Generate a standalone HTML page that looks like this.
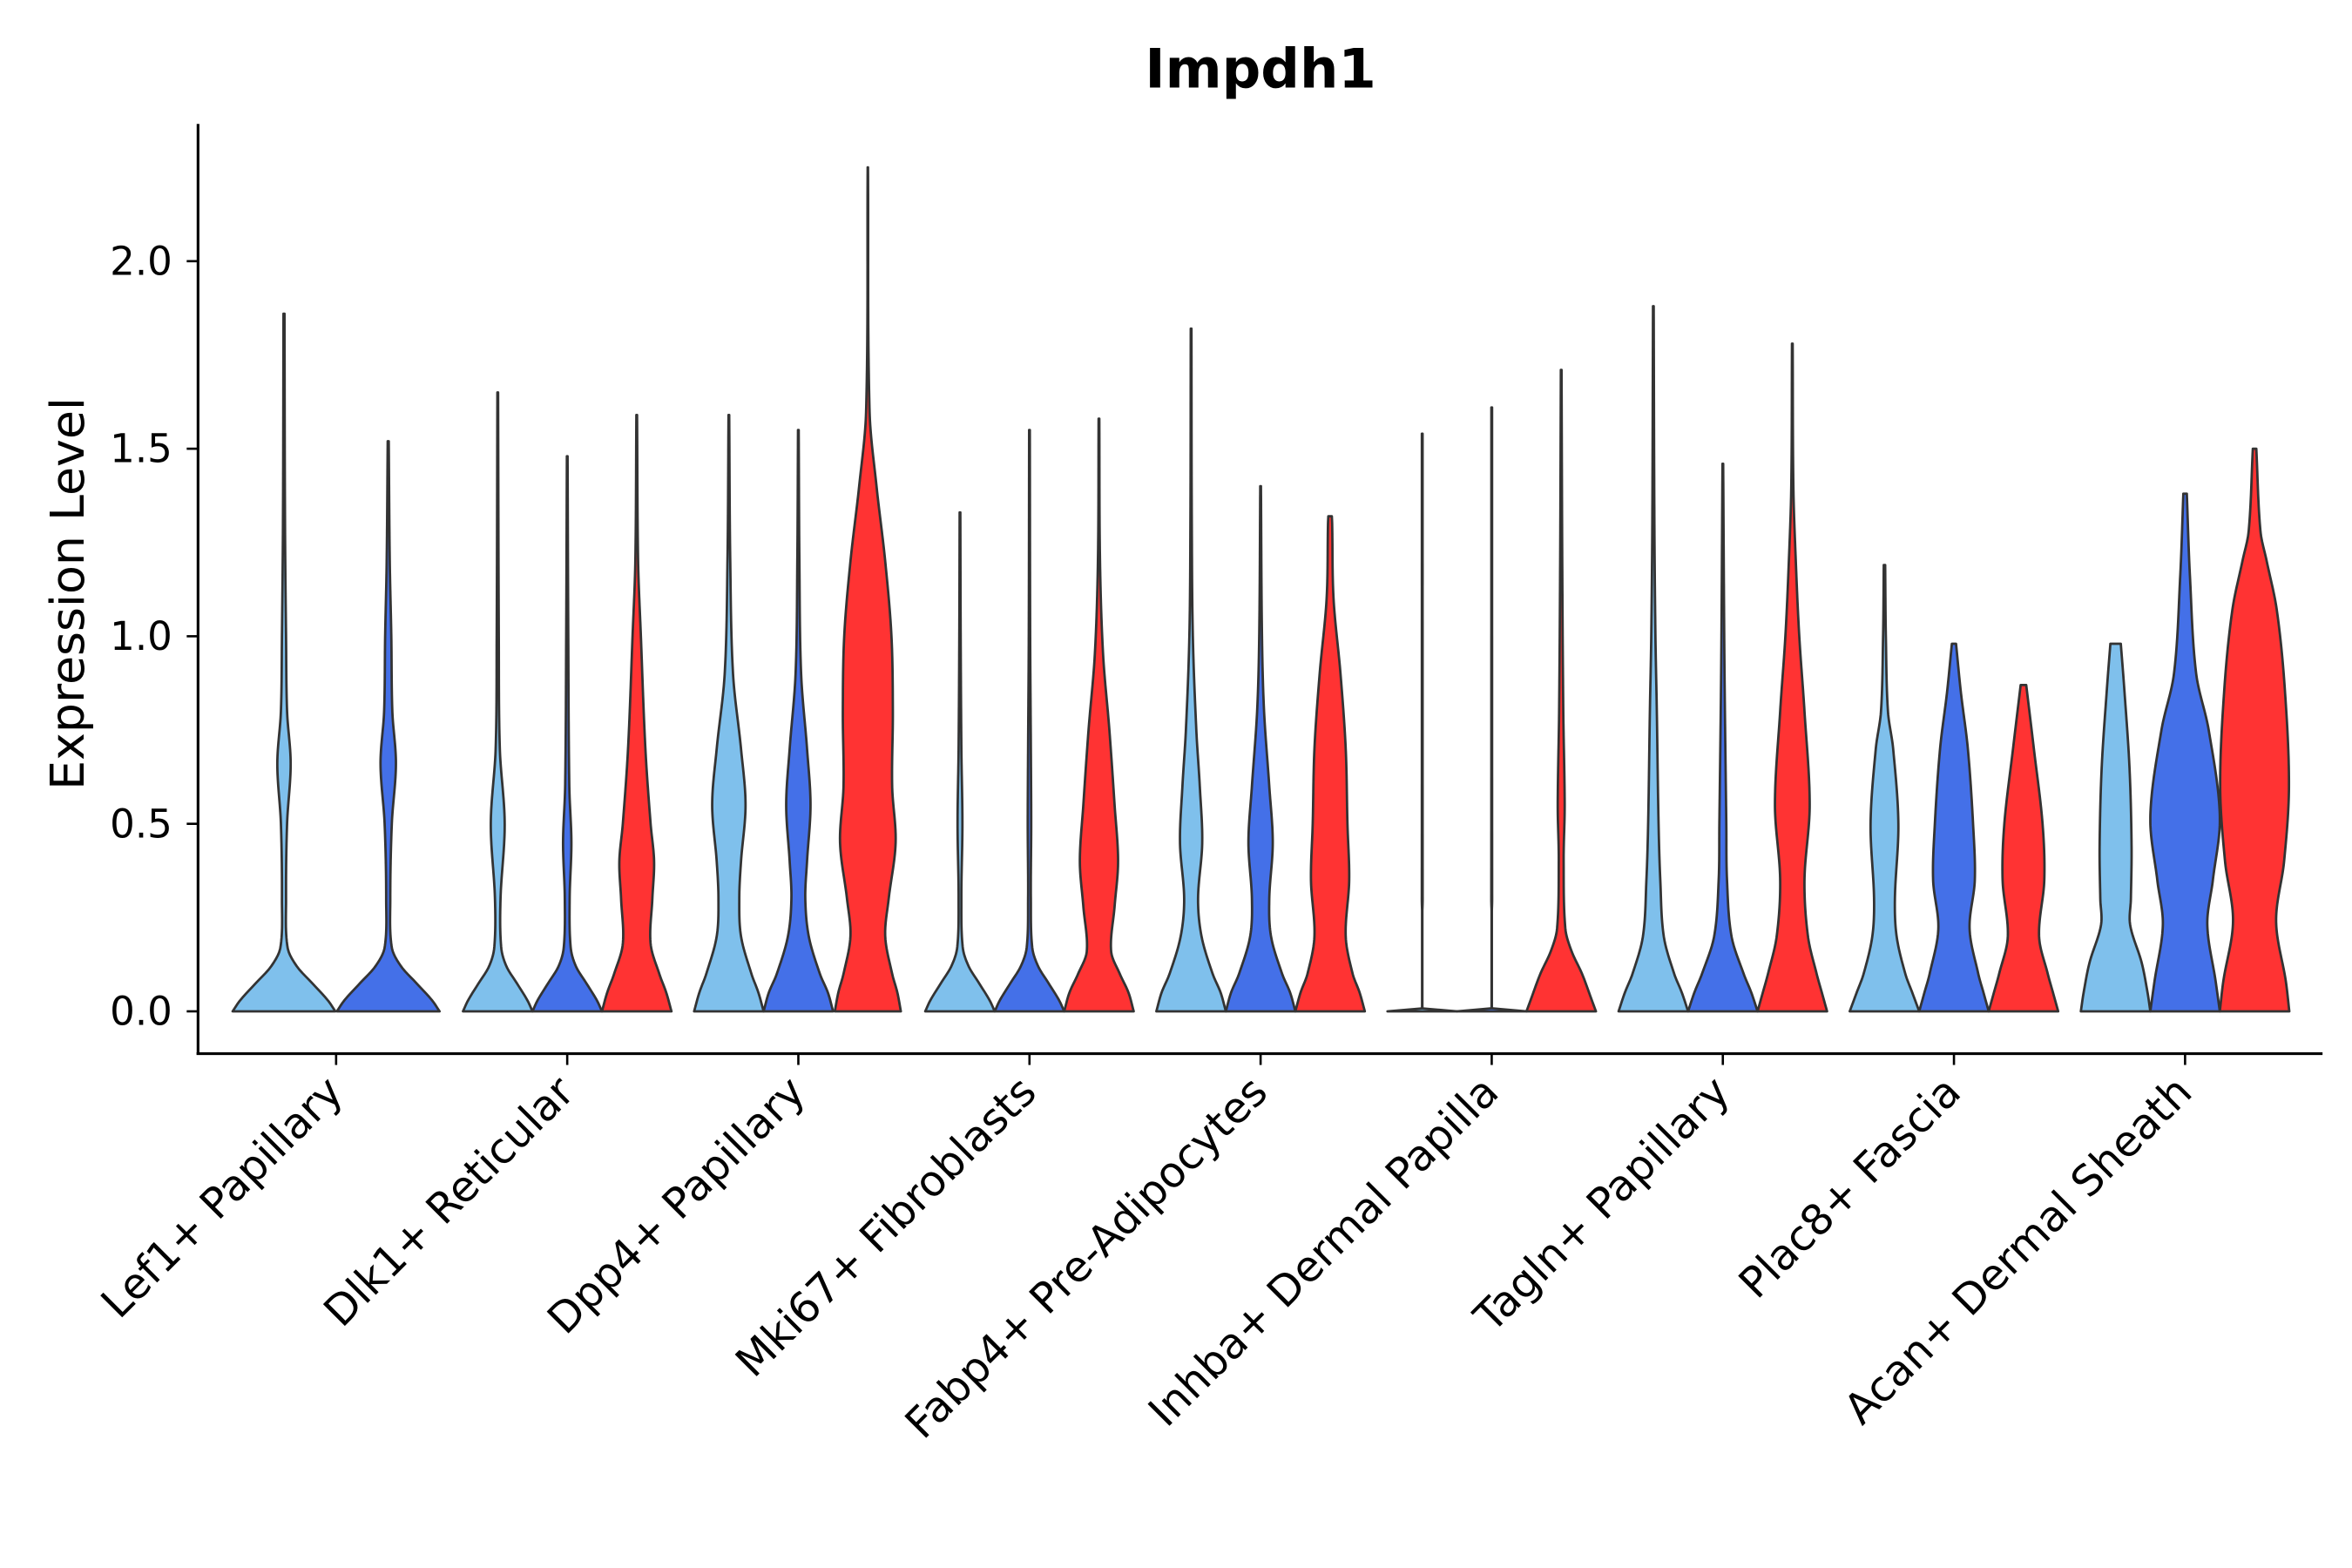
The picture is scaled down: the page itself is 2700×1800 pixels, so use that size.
<!DOCTYPE html>
<html><head><meta charset="utf-8"><style>html,body{margin:0;padding:0;background:#fff}svg{display:block}</style></head>
<body>
<svg id="chart" width="2700" height="1800" viewBox="0 0 1556 1038" xmlns="http://www.w3.org/2000/svg" font-family="'DejaVu Sans','Liberation Sans',sans-serif">
<rect width="1556" height="1038" fill="#fff"/>
<text x="834" y="58" text-anchor="middle" font-size="36" font-weight="bold">Impdh1</text>
<text transform="translate(55,393) rotate(-90)" text-anchor="middle" font-size="31">Expression Level</text>
<g id="axes"></g>
<g id="violins"></g>
</svg>
<script>
const categories = ["Lef1+ Papillary","Dlk1+ Reticular","Dpp4+ Papillary","Mki67+ Fibroblasts","Fabp4+ Pre-Adipocytes","Inhba+ Dermal Papilla","Tagln+ Papillary","Plac8+ Fascia","Acan+ Dermal Sheath"];
const conditions = ["cond1","cond2","cond3"];
const yTicks = [0,0.5,1.0,1.5,2.0];
const yTickLabels = ["0.0","0.5","1.0","1.5","2.0"];
const maxValues = [
 [1.86,1.52,null],[1.65,1.48,1.59],[1.59,1.55,2.25],[1.33,1.55,1.58],[1.82,1.40,1.32],
 [1.54,1.61,1.71],[1.88,1.46,1.78],[1.19,0.98,0.87],[0.98,1.38,1.50]];
const profiles = [
 [[[0,1],[0.03,0.85],[0.075,0.55],[0.12,0.25],[0.17,0.07],[0.3,0.04],[0.5,0.06],[0.66,0.13],[0.8,0.06],[1.0,0.04],[1.3,0.02],[1.86,0.01]],
  [[0,1],[0.03,0.85],[0.075,0.55],[0.12,0.25],[0.17,0.07],[0.3,0.04],[0.5,0.07],[0.66,0.15],[0.8,0.08],[1.0,0.06],[1.2,0.03],[1.52,0.01]],null],
 [[[0,1],[0.03,0.85],[0.075,0.55],[0.12,0.25],[0.17,0.1],[0.3,0.08],[0.5,0.2],[0.7,0.06],[1.0,0.03],[1.65,0.01]],
  [[0,1],[0.03,0.85],[0.075,0.55],[0.12,0.25],[0.17,0.1],[0.3,0.07],[0.45,0.12],[0.6,0.06],[1.0,0.03],[1.48,0.01]],
  [[0,1],[0.05,0.85],[0.1,0.65],[0.18,0.4],[0.3,0.45],[0.4,0.5],[0.5,0.4],[0.7,0.25],[1.0,0.12],[1.2,0.04],[1.59,0.01]]],
 [[[0,1],[0.05,0.85],[0.1,0.65],[0.2,0.35],[0.3,0.3],[0.4,0.35],[0.55,0.48],[0.7,0.35],[0.9,0.12],[1.2,0.04],[1.59,0.01]],
  [[0,1],[0.05,0.85],[0.1,0.62],[0.2,0.3],[0.3,0.2],[0.4,0.25],[0.55,0.35],[0.7,0.25],[0.9,0.08],[1.2,0.03],[1.55,0.01]],
  [[0,0.95],[0.05,0.85],[0.1,0.7],[0.2,0.5],[0.3,0.6],[0.45,0.8],[0.6,0.7],[0.8,0.72],[1.0,0.68],[1.2,0.5],[1.4,0.25],[1.6,0.05],[2.25,0.005]]],
 [[[0,1],[0.03,0.85],[0.075,0.55],[0.12,0.25],[0.17,0.08],[0.3,0.04],[0.5,0.07],[0.7,0.04],[1.0,0.02],[1.33,0.01]],
  [[0,1],[0.03,0.85],[0.075,0.55],[0.12,0.25],[0.17,0.08],[0.3,0.04],[0.5,0.05],[0.7,0.04],[1.0,0.02],[1.55,0.01]],
  [[0,1],[0.05,0.85],[0.1,0.6],[0.16,0.35],[0.28,0.45],[0.4,0.55],[0.55,0.45],[0.75,0.3],[0.95,0.12],[1.2,0.03],[1.58,0.01]]],
 [[[0,1],[0.05,0.85],[0.1,0.62],[0.2,0.3],[0.3,0.2],[0.45,0.32],[0.6,0.25],[0.75,0.15],[1.0,0.05],[1.3,0.02],[1.82,0.01]],
  [[0,1],[0.05,0.85],[0.1,0.62],[0.2,0.3],[0.3,0.25],[0.45,0.35],[0.6,0.25],[0.8,0.1],[1.0,0.04],[1.4,0.01]],
  [[0,1],[0.05,0.85],[0.1,0.65],[0.2,0.45],[0.35,0.55],[0.5,0.5],[0.7,0.45],[0.9,0.3],[1.1,0.1],[1.3,0.06],[1.32,0.05]]],
 [[[0,1],[0.003,0.02],[0.3,0.012],[1.54,0.01]],
  [[0,1],[0.003,0.02],[0.3,0.012],[1.61,0.01]],
  [[0,1],[0.03,0.88],[0.1,0.6],[0.16,0.3],[0.22,0.12],[0.4,0.07],[0.55,0.1],[0.8,0.06],[1.2,0.03],[1.71,0.01]]],
 [[[0,1],[0.05,0.82],[0.1,0.6],[0.2,0.3],[0.35,0.2],[0.5,0.15],[0.8,0.1],[1.0,0.06],[1.3,0.03],[1.88,0.01]],
  [[0,1],[0.05,0.82],[0.1,0.6],[0.2,0.25],[0.35,0.12],[0.5,0.1],[0.8,0.06],[1.0,0.04],[1.46,0.01]],
  [[0,1],[0.05,0.85],[0.1,0.7],[0.2,0.45],[0.35,0.35],[0.55,0.5],[0.8,0.35],[1.0,0.2],[1.2,0.1],[1.4,0.03],[1.78,0.01]]],
 [[[0,1],[0.05,0.8],[0.1,0.6],[0.2,0.35],[0.3,0.3],[0.5,0.4],[0.7,0.25],[0.8,0.1],[1.0,0.04],[1.19,0.02]],
  [[0,1],[0.05,0.85],[0.1,0.7],[0.22,0.45],[0.35,0.6],[0.5,0.55],[0.7,0.4],[0.85,0.2],[0.98,0.06]],
  [[0,1],[0.05,0.85],[0.1,0.7],[0.2,0.45],[0.35,0.6],[0.5,0.55],[0.7,0.3],[0.87,0.08]]],
 [[[0,1],[0.05,0.92],[0.13,0.75],[0.23,0.42],[0.3,0.44],[0.44,0.46],[0.65,0.4],[0.86,0.25],[0.98,0.15]],
  [[0,1],[0.08,0.88],[0.23,0.64],[0.35,0.8],[0.52,1.0],[0.75,0.68],[0.9,0.32],[1.16,0.14],[1.38,0.05]],
  [[0,1],[0.08,0.9],[0.24,0.62],[0.4,0.85],[0.6,0.99],[0.86,0.87],[1.07,0.64],[1.2,0.35],[1.28,0.17],[1.5,0.05]]]
];
const colors = ["#7FC0EC","#4470E8","#FF3333"];
const NS="http://www.w3.org/2000/svg";
const X0=130.6,X1=1537,Ytop=82,Ybot=697.5;
const yScale=v=>669.5-v*248.3;
const xCenter=i=>222+i*153;
const axes=document.getElementById('axes'), vg=document.getElementById('violins');
function mk(tag,attrs,parent){const e=document.createElementNS(NS,tag);for(const k in attrs)e.setAttribute(k,attrs[k]);parent.appendChild(e);return e;}
let yl=mk('line',{x1:X0,y1:Ytop,x2:X0,y2:Ybot,stroke:'#000','stroke-width':1.8},axes);


let xl=mk('line',{x1:X0-1,y1:Ybot,x2:X1,y2:Ybot,stroke:'#000','stroke-width':1.8},axes);


yTicks.forEach((v,i)=>{
  const y=yScale(v);
  let t=mk('line',{x1:X0-7.5,y1:y,x2:X0,y2:y,stroke:'#000','stroke-width':1.5},axes);
  
  
  let l=mk('text',{x:X0-17,y:y+9,'text-anchor':'end','font-size':26},axes);
  l.textContent=yTickLabels[i];
  
  
});
categories.forEach((c,i)=>{
  const x=xCenter(i);
  let t=mk('line',{x1:x,y1:Ybot,x2:x,y2:Ybot+7.5,stroke:'#000','stroke-width':1.5},axes);
  
  
  let l=mk('text',{transform:`translate(${x+6},${Ybot+27}) rotate(-45)`,'text-anchor':'end','font-size':28},axes);
  l.textContent=c;
  
  
});
function interp(prof,v){
  let k=0;while(k<prof.length-2&&v>prof[k+1][0])k++;
  const p1=prof[k],p2=prof[k+1];
  const p0=prof[Math.max(0,k-1)],p3=prof[Math.min(prof.length-1,k+2)];
  const t=(v-p1[0])/(p2[0]-p1[0]||1);
  const m1=(p2[1]-p0[1])/((p2[0]-p0[0])||1)*(p2[0]-p1[0]);
  const m2=(p3[1]-p1[1])/((p3[0]-p1[0])||1)*(p2[0]-p1[0]);
  const t2=t*t,t3=t2*t;
  let w=(2*t3-3*t2+1)*p1[1]+(t3-2*t2+t)*m1+(-2*t3+3*t2)*p2[1]+(t3-t2)*m2;
  return Math.max(Math.min(w,1),0.004);
}
categories.forEach((c,i)=>{
  const present=conditions.map((_,j)=>maxValues[i][j]!=null);
  const n=present.filter(Boolean).length;
  const half=n===3?23:34, off=n===3?46:34.5;
  let idx=0;
  conditions.forEach((cond,j)=>{
    if(!present[j])return;
    const cx=xCenter(i)+(n===3?(idx-1)*off:(idx-0.5)*2*off);
    idx++;
    const prof=profiles[i][j];
    const mx=maxValues[i][j];
    const N=200,R=[],L=[];
    for(let s=0;s<=N;s++){
      const v=mx*s/N;
      const w=interp(prof,v)*half;
      R.push([cx+w,yScale(v)]);L.push([cx-w,yScale(v)]);
    }
    const pts=R.concat(L.reverse());
    const d='M'+pts.map(p=>p[0].toFixed(2)+','+p[1].toFixed(2)).join('L')+'Z';
    let p=mk('path',{d:d,fill:colors[j],stroke:'#333','stroke-width':1.6,'stroke-linejoin':'round'},vg);
    
    
  });
});
</script>
</body></html>
